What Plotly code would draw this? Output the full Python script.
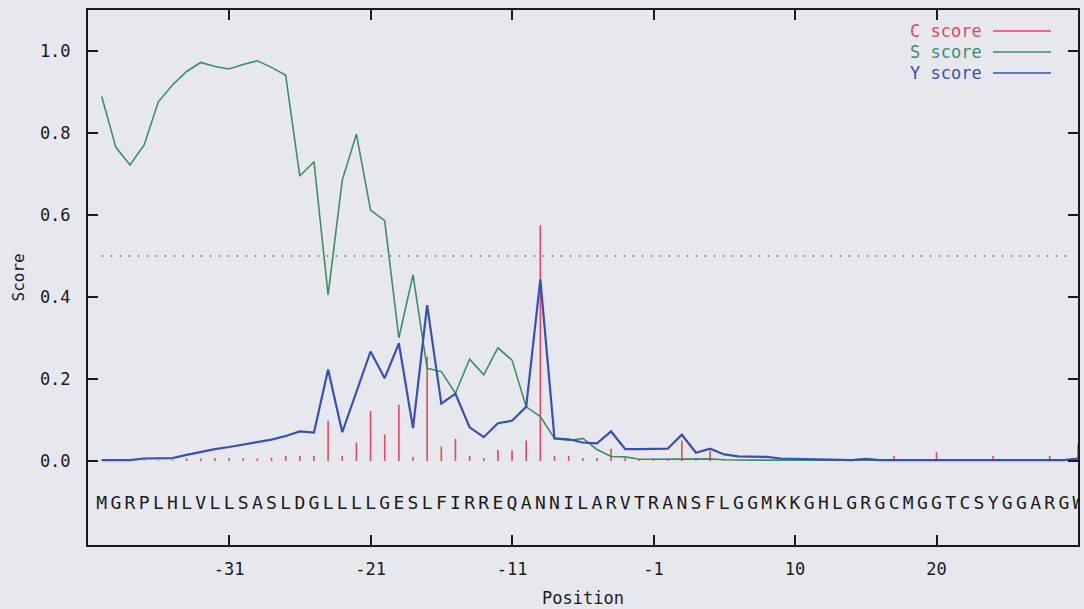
import plotly.graph_objects as go

# ---------------- data ----------------
sequence = list("MGRPLHLVLLSASLDGLLLLGESLFIRREQANNILARVTRANSFLGGMKKGHLGRGCMGGTCSYGGARGW")
residue_index = list(range(1, len(sequence) + 1))

c_score = [0.002, 0.002, 0.002, 0.002, 0.002, 0.002, 0.006, 0.006, 0.007, 0.007,
           0.007, 0.006, 0.008, 0.012, 0.013, 0.013, 0.098, 0.012, 0.045, 0.122,
           0.065, 0.137, 0.010, 0.254, 0.035, 0.054, 0.012, 0.007, 0.027, 0.027,
           0.050, 0.575, 0.012, 0.012, 0.007, 0.007, 0.030, 0.008, 0.003, 0.003,
           0.004, 0.050, 0.004, 0.025, 0.003, 0.003, 0.003, 0.003, 0.003, 0.003,
           0.003, 0.003, 0.003, 0.003, 0.003, 0.003, 0.012, 0.003, 0.003, 0.021,
           0.003, 0.003, 0.003, 0.012, 0.003, 0.003, 0.003, 0.012, 0.003, 0.040]

s_score = [0.889, 0.765, 0.722, 0.771, 0.876, 0.917, 0.950, 0.972, 0.962, 0.956,
           0.967, 0.976, 0.960, 0.941, 0.695, 0.730, 0.405, 0.685, 0.797, 0.612,
           0.586, 0.300, 0.454, 0.226, 0.218, 0.165, 0.248, 0.210, 0.276, 0.246,
           0.132, 0.108, 0.055, 0.050, 0.055, 0.028, 0.011, 0.010, 0.004, 0.004,
           0.004, 0.005, 0.005, 0.005, 0.003, 0.002, 0.002, 0.002, 0.002, 0.002,
           0.002, 0.002, 0.002, 0.002, 0.002, 0.002, 0.002, 0.002, 0.002, 0.002,
           0.002, 0.002, 0.002, 0.002, 0.002, 0.002, 0.002, 0.002, 0.002, 0.002]

y_score = [0.002, 0.002, 0.002, 0.006, 0.006, 0.007, 0.015, 0.022, 0.029, 0.034,
           0.040, 0.045, 0.052, 0.061, 0.072, 0.069, 0.223, 0.070, 0.168, 0.267,
           0.202, 0.287, 0.080, 0.380, 0.140, 0.164, 0.082, 0.058, 0.092, 0.098,
           0.132, 0.443, 0.055, 0.053, 0.045, 0.043, 0.072, 0.029, 0.029, 0.029,
           0.030, 0.064, 0.020, 0.030, 0.016, 0.011, 0.010, 0.010, 0.006, 0.005,
           0.005, 0.003, 0.002, 0.002, 0.005, 0.002, 0.002, 0.002, 0.002, 0.002,
           0.002, 0.002, 0.002, 0.002, 0.002, 0.002, 0.002, 0.002, 0.002, 0.006]

tick_index = [10, 20, 30, 40, 50, 60]
tick_labels = ["-31", "-21", "-11", "-1", "10", "20"]
y_ticks = [0.0, 0.2, 0.4, 0.6, 0.8, 1.0]
y_tick_labels = ["0.0", "0.2", "0.4", "0.6", "0.8", "1.0"]
threshold = 0.5
series_names = ["C score", "S score", "Y score"]

# ---------------- style ----------------
RED = "#e0485c"
GREEN = "#3f8c6c"
BLUE = "#3a4fb3"
BG = "#e7e8ed"
INK = "#1a1a1a"
FONT = "DejaVu Sans Mono"

fig = go.Figure()

# C score as impulses
cx, cy = [], []
for xi, v in zip(residue_index, c_score):
    cx += [xi, xi, None]
    cy += [0, v, None]
fig.add_trace(go.Scatter(x=cx, y=cy, mode="lines", line=dict(color=RED, width=1.6),
                         name=series_names[0], showlegend=False, hoverinfo="skip"))

fig.add_trace(go.Scatter(x=residue_index, y=s_score, mode="lines",
                         line=dict(color=GREEN, width=1.6), name=series_names[1], showlegend=False))
fig.add_trace(go.Scatter(x=residue_index, y=y_score, mode="lines",
                         line=dict(color=BLUE, width=2.2), name=series_names[2], showlegend=False))

# sequence letters
fig.add_trace(go.Scatter(x=residue_index, y=[-0.105] * len(sequence), mode="text",
                         text=sequence, textfont=dict(family=FONT, size=18, color=INK),
                         showlegend=False, hoverinfo="skip", cliponaxis=True))

# threshold dotted line
fig.add_shape(type="line", xref="x", yref="y", x0=residue_index[0], x1=69.3,
              y0=threshold, y1=threshold,
              line=dict(color="#55605a", width=1.3, dash="1.5px,7.5px"))

# legend (text left, line right, as in reference)
legend_y = [0.9607, 0.9215, 0.8822]
for name, col, yy in zip(series_names, [RED, GREEN, BLUE], legend_y):
    fig.add_annotation(xref="paper", yref="paper", x=0.905, y=yy, text=name,
                       showarrow=False, xanchor="right", yanchor="middle",
                       font=dict(family=FONT, size=17, color=col))
    fig.add_shape(type="line", xref="paper", yref="paper", x0=0.9141, x1=0.9727,
                  y0=yy, y1=yy, line=dict(color=col, width=1.6))

# axis titles
fig.add_annotation(xref="paper", yref="paper", x=0.5, y=-0.099, text="Position",
                   showarrow=False, xanchor="center", yanchor="middle",
                   font=dict(family=FONT, size=17, color=INK))
fig.add_annotation(xref="paper", yref="paper", x=-0.0707, y=0.5, text="Score",
                   showarrow=False, textangle=-90, xanchor="center", yanchor="middle",
                   font=dict(family=FONT, size=16, color=INK))

fig.update_layout(
    width=1084, height=609,
    margin=dict(l=88, r=6, t=10, b=64, autoexpand=False),
    paper_bgcolor=BG, plot_bgcolor=BG,
    showlegend=False,
    xaxis=dict(range=[0.03, 70.0], tickvals=tick_index, ticktext=tick_labels,
               ticks="inside", ticklen=10, tickwidth=1.6, tickcolor=INK,
               showline=True, linecolor=INK, linewidth=2, mirror="ticks",
               showgrid=False, zeroline=False, ticklabelstandoff=8,
               tickfont=dict(family=FONT, size=17, color=INK)),
    yaxis=dict(range=[-0.205, 1.1], tickvals=y_ticks, ticktext=y_tick_labels,
               ticks="inside", ticklen=10, tickwidth=1.6, tickcolor=INK,
               showline=True, linecolor=INK, linewidth=2, mirror="ticks",
               showgrid=False, zeroline=False, ticklabelstandoff=12,
               tickfont=dict(family=FONT, size=17, color=INK)),
)

fig.write_html("out.html",
               config={"displayModeBar": False},
               post_script="document.body.style.margin='0';"
                           "document.body.style.overflow='hidden';"
                           "document.body.style.background='" + BG + "';")
